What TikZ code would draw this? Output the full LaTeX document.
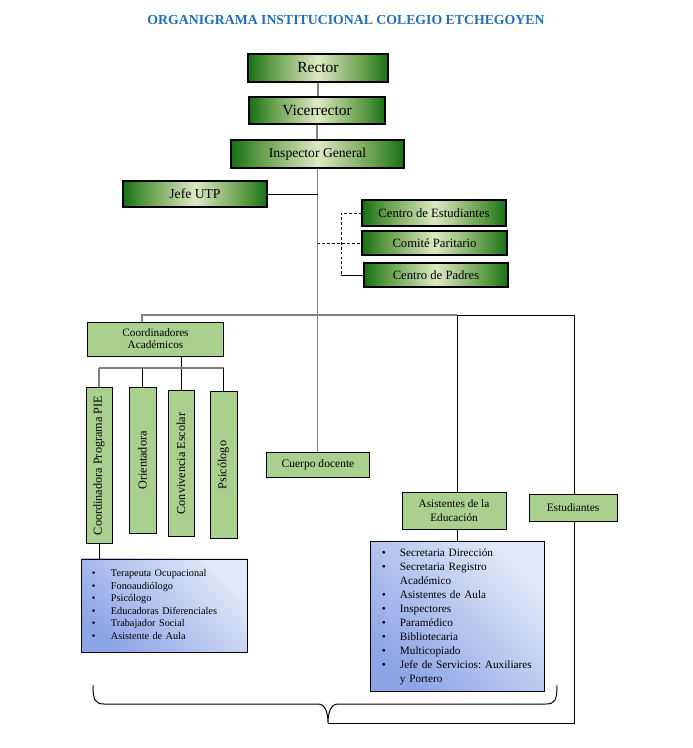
\documentclass[tikz,border=0pt]{standalone}
\usepackage{fontspec}
\setmainfont{Liberation Serif}
\frenchspacing

\definecolor{gdark}{RGB}{22,112,22}
\definecolor{gmid}{RGB}{96,156,70}
\definecolor{glight}{RGB}{222,232,196}
\definecolor{gfill}{RGB}{169,208,142}
\definecolor{bdark}{RGB}{140,165,230}
\definecolor{blight}{RGB}{228,233,249}
\definecolor{titleblue}{RGB}{33,110,180}

\pgfdeclarehorizontalshading{greenbar}{100bp}{color(0bp)=(gdark); color(25bp)=(gdark); color(33bp)=(gmid); color(50bp)=(glight); color(67bp)=(gmid); color(75bp)=(gdark); color(100bp)=(gdark)}

\begin{document}
\begin{tikzpicture}[x=0.025cm, y=-0.025cm,
		topbox/.style={draw, line width=0.8pt, shading=greenbar, inner sep=0pt},
		greenbox/.style={draw, line width=0.7pt, fill=gfill, inner sep=0pt, align=center},
		listbox/.style={draw, line width=0.7pt, top color=blight, bottom color=bdark, shading angle=-45, align=left},
		trunk/.style={draw=gray, line width=1.4pt},
		link/.style={draw=black, line width=0.7pt},
		dashlink/.style={link, dash pattern=on 2pt off 1.5pt}]

		\useasboundingbox (0,0) rectangle (692,748);

		\node[font=\fontsize{9.8}{12}\selectfont\bfseries, text=titleblue] (title) at (346,20) {ORGANIGRAMA INSTITUCIONAL COLEGIO ETCHEGOYEN};

		\node[topbox, minimum width=3.5cm, minimum height=0.7cm, font=\fontsize{11}{13}\selectfont] (rector) at (318,68) {Rector};

		\node[topbox, minimum width=3.4cm, minimum height=0.675cm, font=\fontsize{11}{13}\selectfont] (vice) at (317,110.5) {Vicerrector};

		\node[topbox, minimum width=4.325cm, minimum height=0.7cm, font=\fontsize{9.7}{12}\selectfont] (inspector) at (317.5,154) {Inspector General};

		\node[topbox, minimum width=3.6cm, minimum height=0.65cm, font=\fontsize{9.7}{12}\selectfont] (jefe) at (195,194) {Jefe UTP};

		\node[topbox, minimum width=3.6cm, minimum height=0.65cm, font=\fontsize{9}{11}\selectfont] (cestud) at (434,213) {Centro de Estudiantes};

		\node[topbox, minimum width=3.625cm, minimum height=0.6cm, font=\fontsize{9}{11}\selectfont] (comite) at (434.5,243) {Comité Paritario};

		\node[topbox, minimum width=3.6cm, minimum height=0.6cm, font=\fontsize{9}{11}\selectfont] (cpadres) at (436,275) {Centro de Padres};

		\node[greenbox, minimum width=3.375cm, minimum height=0.85cm, font=\fontsize{8}{8.5}\selectfont] (coord) at (155.5,339) {Coordinadores\\Académicos};

		\node[greenbox, minimum width=0.65cm, minimum height=3.875cm, font=\fontsize{8.7}{10}\selectfont] (pie) at (99,465.5) {\rotatebox{90}{Coordinadora Programa PIE}};

		\node[greenbox, minimum width=0.675cm, minimum height=3.625cm, font=\fontsize{8.7}{10}\selectfont] (orient) at (142.5,460.5) {\rotatebox{90}{Orientadora}};

		\node[greenbox, minimum width=0.65cm, minimum height=3.625cm, font=\fontsize{8.7}{10}\selectfont] (conviv) at (181,463.5) {\rotatebox{90}{Convivencia Escolar}};

		\node[greenbox, minimum width=0.675cm, minimum height=3.65cm, font=\fontsize{8.7}{10}\selectfont] (psico) at (223.5,465) {\rotatebox{90}{Psicólogo}};

		\node[greenbox, minimum width=2.55cm, minimum height=0.625cm, font=\fontsize{8.2}{10}\selectfont] (docente) at (318,464.5) {Cuerpo docente};

		\node[greenbox, minimum width=2.6cm, minimum height=0.925cm, font=\fontsize{8}{10}\selectfont] (asist) at (454,510.5) {Asistentes de la\\Educación};

		\node[greenbox, minimum width=2.2cm, minimum height=0.675cm, font=\fontsize{8.1}{10}\selectfont] (estud) at (573,507.5) {Estudiantes};

		\node[listbox, minimum width=4.125cm, minimum height=2.325cm, inner xsep=0.25cm, inner ysep=0pt, text width=3.625cm, font=\fontsize{7.3}{8.9}\selectfont] (listpie) at (164.5,605.5) {%
			\begin{tabular}{@{}p{13.5pt}@{}l@{}}
				\textbullet & Terapeuta Ocupacional\\
				\textbullet & Fonoaudiólogo\\
				\textbullet & Psicólogo\\
				\textbullet & Educadoras Diferenciales\\
				\textbullet & Trabajador Social\\
				\textbullet & Asistente de Aula
			\end{tabular}};

		\node[listbox, minimum width=4.325cm, minimum height=3.725cm, inner xsep=0.275cm, inner ysep=0pt, text width=3.775cm, font=\fontsize{8}{10}\selectfont] (listasist) at (457.5,616.5) {%
			\begin{tabular}{@{}p{12.8pt}@{}l@{}}
				\textbullet & Secretaria Dirección\\
				\textbullet & Secretaria Registro\\
				 & Académico\\
				\textbullet & Asistentes de Aula\\
				\textbullet & Inspectores\\
				\textbullet & Paramédico\\
				\textbullet & Bibliotecaria\\
				\textbullet & Multicopiado\\
				\textbullet & Jefe de Servicios: Auxiliares\\
				 & y Portero
			\end{tabular}};

		\coordinate (hbl) at (142,315);
		\coordinate (hbm) at (457,315);
		\coordinate (hbr) at (574,315);
		\coordinate (dv) at (341,213);
		\coordinate (sb) at (99,368);
		\coordinate (btip) at (328,723);

		\draw[trunk] (rector.south) -- (rector.south |- vice.north);
		\draw[trunk] (vice.south) -- (vice.south |- inspector.north);
		\draw[trunk] (inspector.south) -- (inspector.south |- docente.north);

		\draw[link] (jefe.east) -- (jefe.east -| inspector.south);

		\draw[dashlink] (cestud.west) -- (cestud.west -| dv) -- (dv |- cpadres.west);
		\draw[dashlink] (comite.west -| inspector.south) -- (comite.west);
		\draw[link] (dv |- cpadres.west) -- (cpadres.west);

		\draw[trunk] (hbl |- coord.north) -- (hbl) -- (hbm);
		\draw[link] (hbm) -- (hbr);
		\draw[link] (hbm) -- (hbm |- asist.north);
		\draw[link] (hbr) -- (hbr |- estud.north);

		\draw[link] (conviv.north) -- (conviv.north |- coord.south);
		\draw[trunk] (sb) -- (sb -| psico.north);
		\draw[trunk] (pie.north) -- (pie.north |- sb);
		\draw[link] (orient.north) -- (orient.north |- sb);
		\draw[link] (psico.north) -- (psico.north |- sb);

		\draw[link] (pie.south) -- (pie.south |- listpie.north);
		\draw[link] (asist.south -| hbm) -- (listasist.north -| hbm);

		% llave inferior
		\draw[link] (93,685) .. controls (93,700) and (95,704) .. (104,704) -- (318,704)
			.. controls (325,704) and (328,712) .. (btip)
			.. controls (328,712) and (331,704) .. (338,704) -- (546,704)
			.. controls (555,704) and (557,700) .. (557,685);
		\draw[link] (estud.south -| hbr) -- (hbr |- btip) -- (btip);
	\end{tikzpicture}
\end{document}
